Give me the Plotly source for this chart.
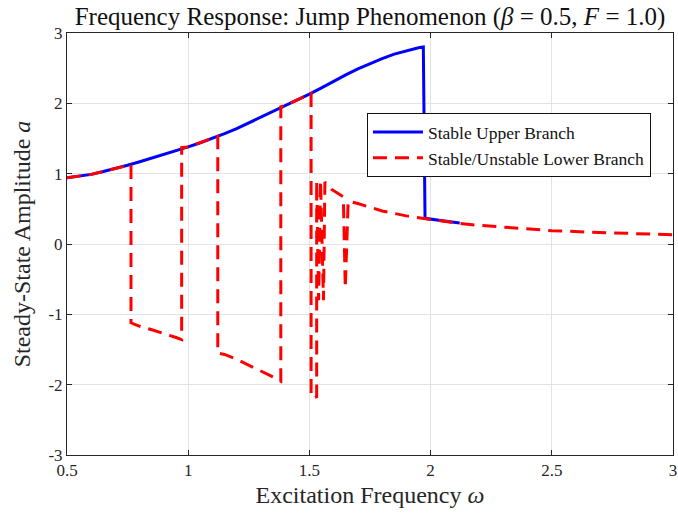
import plotly.graph_objects as go

# Stable upper branch (omega, amplitude)
upper_w = [0.5, 0.55, 0.6, 0.65, 0.7, 0.75, 0.8, 0.85, 0.9, 0.95, 1.0, 1.05, 1.1, 1.15, 1.2, 1.25,
           1.3, 1.35, 1.4, 1.45, 1.5, 1.55, 1.6, 1.65, 1.7, 1.75, 1.8, 1.85, 1.9, 1.95, 1.97,
           1.977, 2.05, 2.12]
upper_a = [0.94, 0.96, 0.99, 1.03, 1.07, 1.12, 1.17, 1.22, 1.27, 1.33, 1.38, 1.44, 1.50, 1.57, 1.64, 1.72,
           1.80, 1.89, 1.97, 2.05, 2.13, 2.22, 2.315, 2.405, 2.49, 2.565, 2.635, 2.70, 2.75, 2.79, 2.80,
           0.365, 0.33, 0.30]

# Stable/unstable lower branch as computed (with root switching)
lower_w = [0.5, 0.55, 0.6, 0.65, 0.7, 0.764, 0.764, 0.8, 0.85, 0.9, 0.95, 0.973, 0.973, 1.0, 1.05, 1.1,
           1.122, 1.122, 1.15, 1.2, 1.25, 1.3, 1.35, 1.382, 1.382, 1.4, 1.45, 1.507, 1.507, 1.515, 1.53,
           1.53, 1.538, 1.546, 1.558, 1.564, 1.59, 1.64, 1.648, 1.66, 1.7, 1.75, 1.8, 1.9,
           2.0, 2.1, 2.2, 2.35, 2.5, 2.65, 2.85, 3.0]
lower_a = [0.94, 0.96, 0.99, 1.03, 1.07, 1.13, -1.12, -1.17, -1.22, -1.27, -1.33, -1.36, 1.37, 1.38, 1.44, 1.50,
           1.53, -1.55, -1.57, -1.64, -1.72, -1.80, -1.89, -1.95, 1.95, 1.97, 2.05, 2.14, -2.17, -2.19, -2.17,
           0.90, -0.80, 0.90, -0.80, 0.88, 0.78, 0.67, -0.63, 0.61, 0.575, 0.52, 0.47, 0.40,
           0.345, 0.30, 0.265, 0.225, 0.19, 0.17, 0.145, 0.13]

x_ticks = [0.5, 1, 1.5, 2, 2.5, 3]
x_tick_labels = ["0.5", "1", "1.5", "2", "2.5", "3"]
y_ticks = [-3, -2, -1, 0, 1, 2, 3]
y_tick_labels = ["-3", "-2", "-1", "0", "1", "2", "3"]

SERIF = "Liberation Serif, Times New Roman, serif"
AX = "#262626"

fig = go.Figure()
fig.add_trace(go.Scatter(x=upper_w, y=upper_a, mode="lines", name="Stable Upper Branch",
                         line=dict(color="#0000ff", width=3)))
fig.add_trace(go.Scatter(x=lower_w, y=lower_a, mode="lines", name="Stable/Unstable Lower Branch",
                         line=dict(color="#ff0000", width=3, dash="14px,8px")))

axis_common = dict(showline=True, linecolor=AX, linewidth=1, mirror="ticks", ticks="inside",
                   ticklen=5, tickcolor=AX, showgrid=True, gridcolor="#e3e3e3", gridwidth=1,
                   zeroline=False, automargin=False,
                   tickfont=dict(family=SERIF, size=17, color=AX))

fig.update_xaxes(range=[0.5, 3], tickvals=x_ticks, ticktext=x_tick_labels,
                 title=dict(text="Excitation Frequency <i>ω</i>", font=dict(family=SERIF, size=24, color=AX),
                            standoff=6),
                 **axis_common)
fig.update_yaxes(range=[-3, 3], tickvals=y_ticks, ticktext=y_tick_labels,
                 title=dict(text="Steady-State Amplitude <i>a</i>", font=dict(family=SERIF, size=24, color=AX),
                            standoff=11),
                 **axis_common)

fig.update_layout(
    width=678, height=516,
    margin=dict(l=67, r=5, t=33, b=61),
    paper_bgcolor="white", plot_bgcolor="white",
    title=dict(text="Frequency Response: Jump Phenomenon (<i>β</i> = 0.5, <i>F</i> = 1.0)",
               x=0.5, xref="paper", xanchor="center", y=0.969, yanchor="middle",
               font=dict(family=SERIF, size=25, color="#111111")),
    legend=dict(x=0.495, y=0.81, xanchor="left", yanchor="top", bgcolor="white",
                bordercolor="#111111", borderwidth=1,
                font=dict(family=SERIF, size=17.5, color="#111111"),
                itemwidth=50, tracegroupgap=0),
    showlegend=True,
)

fig.write_html("out.html")
